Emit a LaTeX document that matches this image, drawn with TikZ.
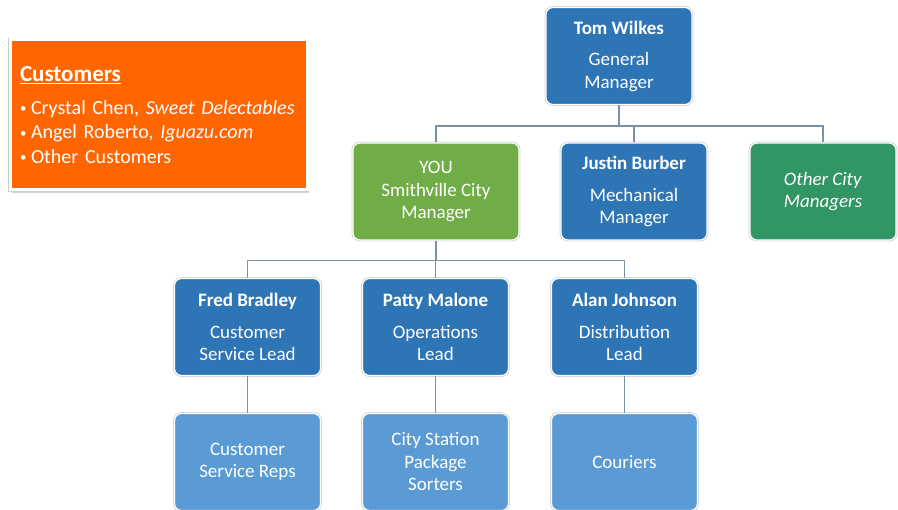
\documentclass[tikz,border=0pt]{standalone}
\usepackage{fontspec}
\setmainfont{Carlito}
\usetikzlibrary{shadows,calc}
\definecolor{dblue}{RGB}{46,117,182}
\definecolor{lblue}{RGB}{91,155,213}
\definecolor{lgreen}{RGB}{112,173,71}
\definecolor{dgreen}{RGB}{50,150,100}
\definecolor{orng}{RGB}{255,102,0}
\definecolor{connc}{RGB}{125,145,165}
\newcommand{\bul}{\makebox[11pt][l]{\raisebox{1.5pt}{\scalebox{0.65}{•}}}}
\begin{document}
\begin{tikzpicture}[x=1pt,y=-1pt,
  box/.style={rounded corners=7pt, draw=white, line width=1.2pt, text=white,
    align=center, minimum width=146pt, minimum height=97pt, inner sep=2pt,
    font=\fontsize{19}{22.5}\selectfont,
    drop shadow={shadow xshift=0.8pt, shadow yshift=-0.8pt, opacity=0.3, fill=gray},
    preaction={draw=gray!35, line width=2.8pt}},
  conn/.style={draw=connc, line width=1.8pt}]
\useasboundingbox (0,0) rectangle (898,510);
\clip (0,0) rectangle (898,510);
\fill[white] (0,0) rectangle (898,510);

% customers
\node[draw=white, line width=3pt, fill=orng, text=white, minimum width=297pt, minimum height=150pt,
  text width=277pt, align=left, inner sep=0pt, font=\fontsize{20}{24.5}\selectfont,
  drop shadow={shadow xshift=2pt, shadow yshift=-3pt, opacity=0.35, fill=gray},
  preaction={draw=gray!40, line width=4.6pt}]
  (cust) at (158.5,115)
  {{\fontsize{23}{24.5}\selectfont\textbf{\underline{Customers}}}\\[8pt]
   \bul Crystal Chen, \textit{Sweet Delectables}\\
   \bul Angel Roberto, \textit{Iguazu.com}\\
   \bul Other Customers};

% level 0
\node[box, fill=dblue] (tom) at (619,56) {\textbf{Tom Wilkes}\\[9pt]General\\Manager};

% level 1
\node[box, fill=lgreen, minimum width=166pt] (you) at (436,191.5) {YOU\\Smithville City\\Manager};
\node[box, fill=dblue] (justin) at (634,191.5) {\textbf{Justin Burber}\\[9pt]Mechanical\\Manager};
\node[box, fill=dgreen] (other) at (823,191.5) {\textit{Other City}\\\textit{Managers}};

% level 2
\node[box, fill=dblue] (fred) at (247.5,327) {\textbf{Fred Bradley}\\[9pt]Customer\\Service Lead};
\node[box, fill=dblue] (patty) at (435.5,327) {\textbf{Patty Malone}\\[9pt]Operations\\Lead};
\node[box, fill=dblue] (alan) at (624.5,327) {\textbf{Alan Johnson}\\[9pt]Distribution\\Lead};

% level 3
\node[box, fill=lblue] (reps) at (247.5,462) {Customer\\Service Reps};
\node[box, fill=lblue] (sorters) at (435.5,462) {City Station\\Package\\Sorters};
\node[box, fill=lblue] (couriers) at (624.5,462) {Couriers};

% connectors
\coordinate (b1) at ($(tom.south)+(0,21)$);
\draw[conn] (tom.south) -- (b1);
\draw[conn] (b1) -| (you.north);
\draw[conn] (b1) -| (justin.north);
\draw[conn] (b1) -| (other.north);
\coordinate (b2) at ($(you.south)+(0,20)$);
\draw[conn] (you.south) -- (b2);
\draw[conn] (b2) -| (fred.north);
\draw[conn] (b2) -| (patty.north);
\draw[conn] (b2) -| (alan.north);
\draw[conn] (fred.south) -- (reps.north);
\draw[conn] (patty.south) -- (sorters.north);
\draw[conn] (alan.south) -- (couriers.north);
\end{tikzpicture}
\end{document}
